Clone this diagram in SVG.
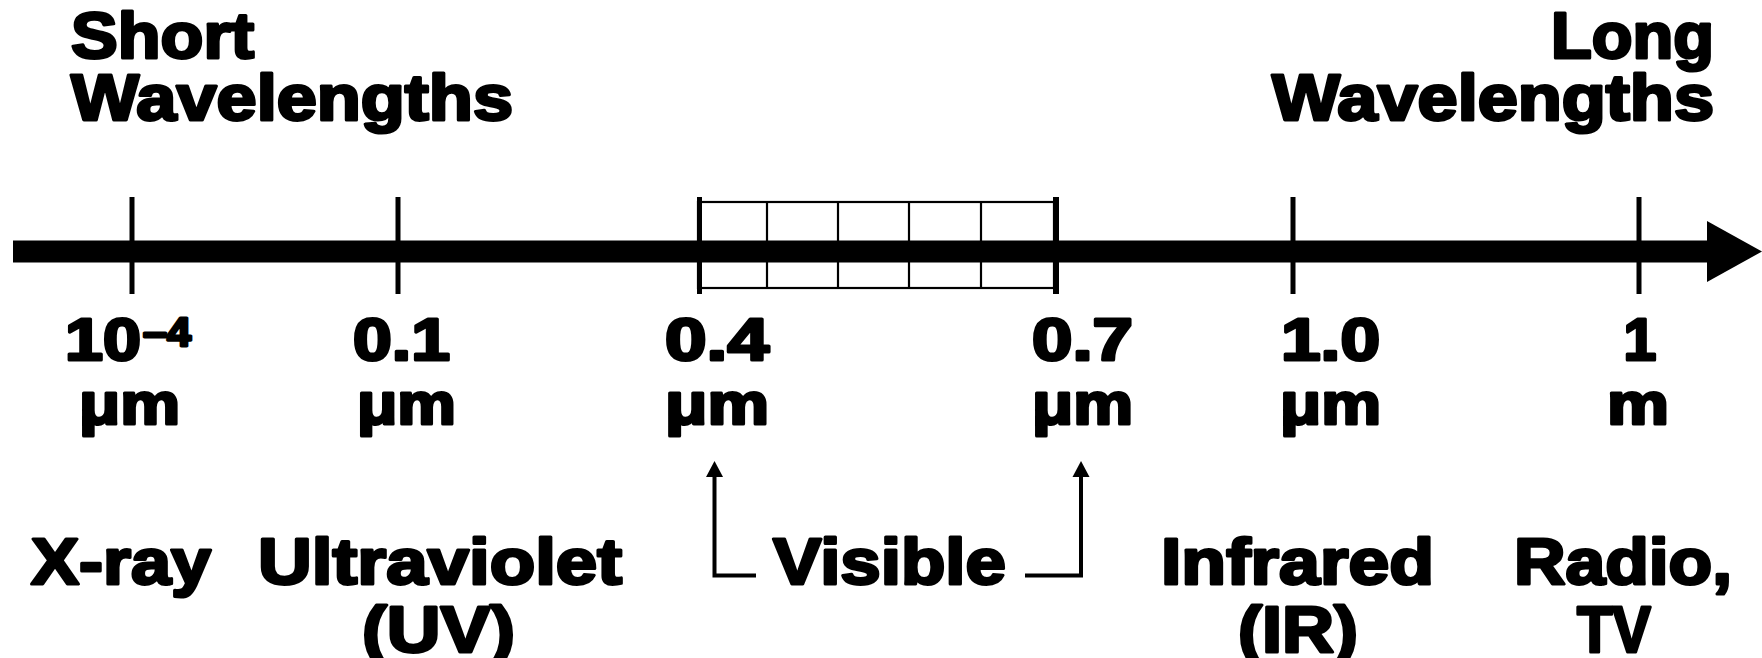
<svg xmlns="http://www.w3.org/2000/svg" width="1762" height="658" viewBox="0 0 1762 658">
  <defs>
    <style>
      .t { font-family: "Liberation Sans", Arial, sans-serif; font-weight: 700; fill: #000; stroke: #000; stroke-width: 3; stroke-linejoin: round; }
      .head { font-size: 64px; }
      .val { font-size: 59px; }
      .sup { font-size: 41px; }
      .band { font-size: 65px; }
      .tick { stroke: #000; stroke-width: 5; }
      .cell { stroke: #000; stroke-width: 2.2; fill: none; }
      .lead { stroke: #000; stroke-width: 4; fill: none; }
      .head-tip { fill: #000; }
    </style>
  </defs>
  <rect width="1762" height="658" fill="#fff"/>

  <!-- headings -->
  <g id="short-heading">
    <text class="t head" x="71" y="58" textLength="183" lengthAdjust="spacingAndGlyphs">Short</text>
    <text class="t head" x="71" y="120" textLength="442" lengthAdjust="spacingAndGlyphs">Wavelengths</text>
  </g>
  <g id="long-heading">
    <text class="t head" x="1551" y="58" textLength="163" lengthAdjust="spacingAndGlyphs">Long</text>
    <text class="t head" x="1272" y="120" textLength="442" lengthAdjust="spacingAndGlyphs">Wavelengths</text>
  </g>

  <!-- wavelength axis -->
  <g id="axis">
    <rect x="13" y="240.5" width="1696" height="22" fill="#000"/>
    <path d="M1707 221 L1762 251.5 L1707 282 Z" fill="#000"/>
    <line class="tick" x1="132" y1="197" x2="132" y2="294"/>
    <line class="tick" x1="398" y1="197" x2="398" y2="294"/>
    <line class="tick" x1="1293" y1="197" x2="1293" y2="294"/>
    <line class="tick" x1="1639" y1="197" x2="1639" y2="294"/>
  </g>

  <!-- visible band: five cells between 0.4 and 0.7 -->
  <g id="visible-band">
    <line class="tick" x1="699.5" y1="197" x2="699.5" y2="294"/>
    <rect x="698" y="202" width="356" height="86" fill="#fff" class="cell"/>
    <line class="cell" x1="767" y1="202" x2="767" y2="288"/>
    <line class="cell" x1="838" y1="202" x2="838" y2="288"/>
    <line class="cell" x1="909" y1="202" x2="909" y2="288"/>
    <line class="cell" x1="981" y1="202" x2="981" y2="288"/>
    <line stroke="#000" stroke-width="6" x1="1056" y1="197" x2="1056" y2="294"/>
  </g>

  <!-- tick values -->
  <g id="val-1e-4">
    <text class="t val" x="65" y="360" textLength="76" lengthAdjust="spacingAndGlyphs">10</text>
    <text class="t sup" x="143" y="346" textLength="48" lengthAdjust="spacingAndGlyphs">–4</text>
    <text class="t val" x="79" y="424" textLength="101" lengthAdjust="spacingAndGlyphs">μm</text>
  </g>
  <g id="val-0.1">
    <text class="t val" x="353" y="360" textLength="97" lengthAdjust="spacingAndGlyphs">0.1</text>
    <text class="t val" x="357" y="424" textLength="99" lengthAdjust="spacingAndGlyphs">μm</text>
  </g>
  <g id="val-0.4">
    <text class="t val" x="665" y="360" textLength="104" lengthAdjust="spacingAndGlyphs">0.4</text>
    <text class="t val" x="665" y="424" textLength="104" lengthAdjust="spacingAndGlyphs">μm</text>
  </g>
  <g id="val-0.7">
    <text class="t val" x="1032" y="360" textLength="101" lengthAdjust="spacingAndGlyphs">0.7</text>
    <text class="t val" x="1032" y="424" textLength="101" lengthAdjust="spacingAndGlyphs">μm</text>
  </g>
  <g id="val-1.0">
    <text class="t val" x="1281" y="360" textLength="99" lengthAdjust="spacingAndGlyphs">1.0</text>
    <text class="t val" x="1280" y="424" textLength="101" lengthAdjust="spacingAndGlyphs">μm</text>
  </g>
  <g id="val-1m">
    <text class="t val" x="1640" y="360" text-anchor="middle">1</text>
    <text class="t val" x="1607" y="424" textLength="62" lengthAdjust="spacingAndGlyphs">m</text>
  </g>

  <!-- band names -->
  <g id="band-xray">
    <text class="t band" x="31" y="584" textLength="180" lengthAdjust="spacingAndGlyphs">X-ray</text>
  </g>
  <g id="band-uv">
    <text class="t band" x="258" y="584" textLength="364" lengthAdjust="spacingAndGlyphs">Ultraviolet</text>
    <text class="t band" x="362" y="652" textLength="153" lengthAdjust="spacingAndGlyphs">(UV)</text>
  </g>
  <g id="band-visible">
    <text class="t band" x="773" y="584" textLength="233" lengthAdjust="spacingAndGlyphs">Visible</text>
  </g>
  <g id="band-ir">
    <text class="t band" x="1161" y="584" textLength="273" lengthAdjust="spacingAndGlyphs">Infrared</text>
    <text class="t band" x="1238" y="652" textLength="120" lengthAdjust="spacingAndGlyphs">(IR)</text>
  </g>
  <g id="band-radio">
    <text class="t band" x="1514" y="584" textLength="218" lengthAdjust="spacingAndGlyphs">Radio,</text>
    <text class="t band" x="1577" y="652" textLength="74" lengthAdjust="spacingAndGlyphs">TV</text>
  </g>

  <!-- leaders from the Visible label up to the band edges -->
  <g id="connectors">
    <path class="lead" d="M756 575.5 H714.5 V476"/>
    <path class="head-tip" d="M714.5 461 L723 477 L706 477 Z"/>
    <path class="lead" d="M1025 575.5 H1081 V476"/>
    <path class="head-tip" d="M1081 461 L1089.5 477 L1072.5 477 Z"/>
  </g>
</svg>
